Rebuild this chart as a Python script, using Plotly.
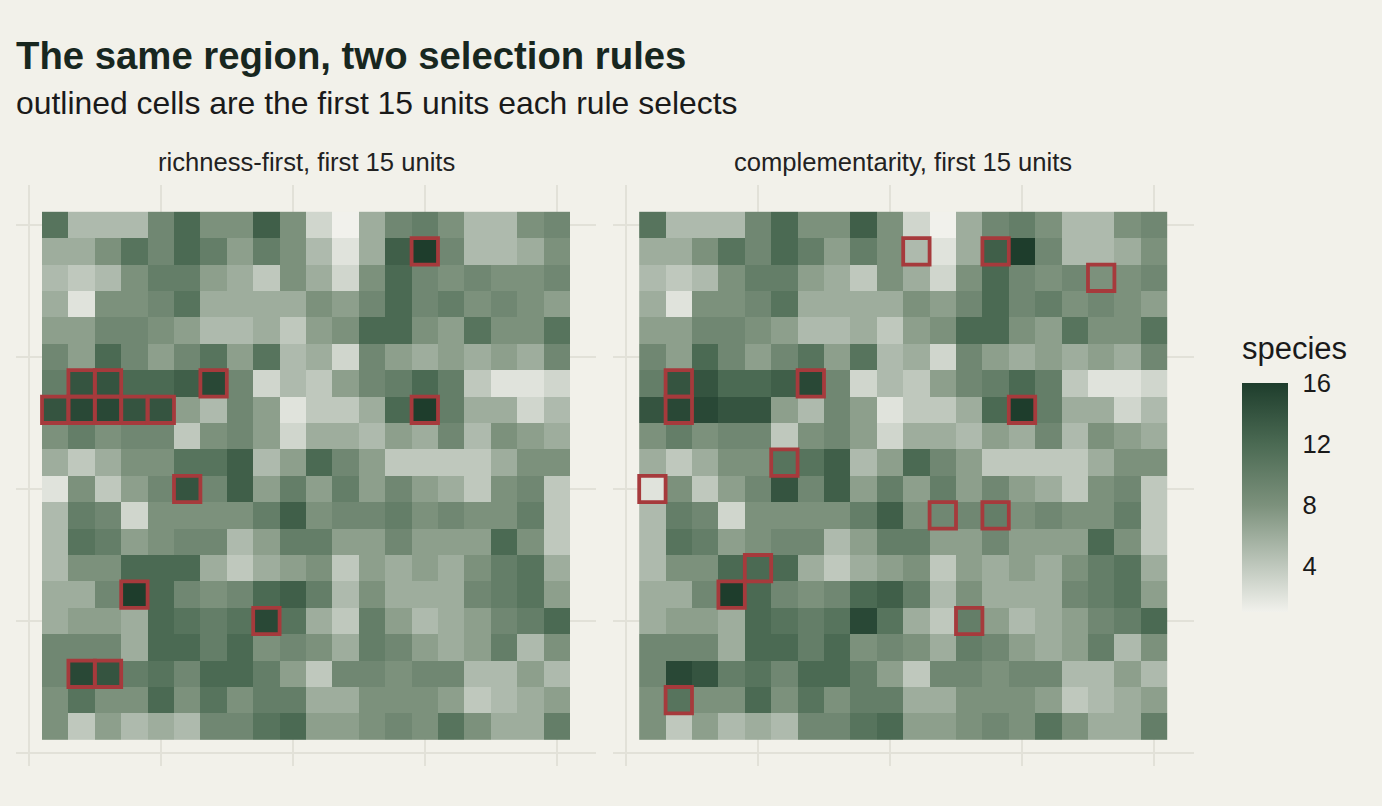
import plotly.graph_objects as go

# ---------------- data ----------------
# species richness per planning unit, 20 x 20 grid, listed top row first
richness_rows = [
    [11, 5, 5, 5, 9, 12, 8, 8, 13, 8, 3, 1, 6, 9, 10, 8, 5, 5, 8, 9],
    [6, 6, 8, 11, 9, 12, 10, 7, 10, 8, 5, 2, 6, 13, 16, 9, 5, 5, 6, 8],
    [5, 4, 5, 8, 10, 10, 7, 6, 4, 8, 6, 3, 8, 12, 9, 8, 9, 8, 8, 9],
    [6, 2, 8, 8, 9, 11, 6, 6, 6, 6, 8, 7, 9, 12, 9, 10, 8, 9, 8, 7],
    [7, 7, 9, 9, 8, 7, 5, 5, 6, 4, 7, 8, 12, 12, 8, 7, 11, 8, 8, 11],
    [9, 7, 12, 9, 7, 9, 11, 7, 11, 5, 6, 3, 9, 7, 6, 7, 6, 7, 6, 9],
    [10, 14, 14, 12, 12, 13, 15, 9, 3, 5, 4, 7, 9, 10, 12, 10, 4, 2, 2, 3],
    [14, 15, 15, 14, 14, 7, 5, 9, 7, 2, 4, 4, 6, 12, 16, 10, 6, 6, 3, 5],
    [8, 10, 8, 9, 9, 4, 8, 9, 7, 3, 6, 6, 5, 7, 6, 9, 5, 8, 7, 6],
    [6, 4, 6, 8, 8, 11, 11, 13, 5, 7, 12, 9, 7, 4, 4, 4, 4, 6, 8, 8],
    [2, 8, 4, 7, 9, 14, 9, 13, 7, 10, 7, 10, 7, 9, 7, 6, 4, 8, 9, 4],
    [5, 10, 9, 3, 8, 8, 8, 8, 10, 13, 8, 9, 9, 10, 8, 9, 8, 8, 10, 4],
    [5, 11, 10, 7, 8, 9, 9, 5, 7, 10, 10, 7, 7, 9, 7, 7, 7, 12, 8, 4],
    [5, 8, 8, 12, 12, 12, 6, 4, 6, 7, 8, 4, 7, 6, 7, 6, 8, 10, 11, 6],
    [6, 6, 9, 16, 12, 9, 8, 9, 12, 13, 10, 5, 8, 6, 6, 6, 9, 10, 11, 7],
    [6, 7, 7, 6, 12, 11, 10, 11, 15, 11, 6, 4, 10, 7, 5, 6, 7, 9, 10, 12],
    [9, 9, 9, 6, 12, 12, 10, 12, 8, 9, 8, 6, 10, 9, 7, 6, 7, 10, 5, 8],
    [9, 15, 14, 10, 11, 9, 12, 12, 10, 7, 4, 9, 9, 8, 9, 9, 5, 5, 7, 5],
    [8, 11, 8, 8, 12, 8, 11, 8, 10, 10, 6, 6, 8, 8, 8, 7, 4, 5, 6, 7],
    [8, 4, 7, 5, 6, 5, 9, 9, 11, 12, 7, 7, 8, 9, 8, 11, 8, 6, 6, 10],
]

# first 15 selected units (row index from top, column index from left)
richness_sel_rows = [1, 6, 6, 6, 7, 7, 7, 7, 7, 7, 10, 14, 15, 17, 17]
richness_sel_cols = [14, 1, 2, 6, 0, 1, 2, 3, 4, 14, 5, 3, 8, 1, 2]

compl_sel_rows = [1, 1, 2, 6, 6, 7, 7, 9, 10, 11, 11, 13, 14, 15, 18]
compl_sel_cols = [10, 13, 17, 1, 6, 1, 14, 5, 0, 11, 13, 4, 3, 12, 1]

panel_titles = ["richness-first, first 15 units", "complementarity, first 15 units"]
colorbar_ticks = [4, 8, 12, 16]
title_text = "The same region, two selection rules"
subtitle_text = "outlined cells are the first 15 units each rule selects"
legend_title = "species"

# ---------------- figure ----------------
W, H = 1382, 806
BG = "#f2f1ea"
FONT = "Liberation Sans, Arial, Helvetica, sans-serif"
n = len(richness_rows)
xs = list(range(1, n + 1))
ys = list(range(1, n + 1))
z = [richness_rows[n - 1 - j] for j in range(n)]  # bottom row first

zmin, zmax = 1, 16
def nrm(v):
    return (v - zmin) / (zmax - zmin)

colorscale = [
    [0.0, "#f1f1ec"],
    [nrm(4), "#bfc8bd"],
    [nrm(8), "#7c917c"],
    [nrm(12), "#4b6a53"],
    [1.0, "#1e3d2c"],
]

def px_x(p):
    return p / W

def px_y(p):
    return 1 - p / H

fig = go.Figure()

panels = [
    ("x", "y", richness_sel_rows, richness_sel_cols),
    ("x2", "y2", compl_sel_rows, compl_sel_cols),
]

for k, (xa, ya, srows, scols) in enumerate(panels):
    fig.add_trace(go.Heatmap(
        x=xs, y=ys, z=z, xaxis=xa, yaxis=ya,
        zmin=zmin, zmax=zmax, colorscale=colorscale,
        showscale=(k == 1),
        hoverinfo="skip",
        colorbar=dict(
            x=px_x(1242), xanchor="left",
            y=px_y(497.5), yanchor="middle",
            thickness=46, thicknessmode="pixels",
            len=229, lenmode="pixels",
            xpad=0, ypad=0, outlinewidth=0,
            tickvals=colorbar_ticks,
            ticks="outside", ticklen=10, tickwidth=1, tickcolor=BG,
            tickfont=dict(size=25.6, color="#1a1a1a", family=FONT),
        ),
    ))
    for r, c in zip(srows, scols):
        xc = c + 1
        yc = n - r
        fig.add_shape(
            type="rect", xref=xa, yref=ya,
            x0=xc - 0.5, x1=xc + 0.5, y0=yc - 0.5, y1=yc + 0.5,
            line=dict(color="#a63a3c", width=3.8),
            fillcolor="rgba(0,0,0,0)", layer="above",
        )

axis_common = dict(
    range=[-0.5, 21.5], tickvals=[0, 5, 10, 15, 20],
    showticklabels=False, ticks="", showgrid=True,
    gridcolor="#e2e1d8", gridwidth=2, zeroline=False, showline=False,
    fixedrange=True,
)

left_dom = [px_x(15.6), px_x(596.4)]
right_dom = [px_x(612.8), px_x(1193.6)]
y_dom = [px_y(766.2), px_y(185.4)]

fig.update_layout(
    width=W, height=H,
    margin=dict(l=0, r=0, t=0, b=0),
    paper_bgcolor=BG, plot_bgcolor=BG,
    font=dict(family=FONT, color="#1a1a1a"),
    xaxis=dict(domain=left_dom, anchor="y", **axis_common),
    yaxis=dict(domain=y_dom, anchor="x", **axis_common),
    xaxis2=dict(domain=right_dom, anchor="y2", **axis_common),
    yaxis2=dict(domain=y_dom, anchor="x2", **axis_common),
    showlegend=False,
)

annotations = [
    dict(text="<b>" + title_text + "</b>", x=px_x(14), y=px_y(55),
         xanchor="left", yanchor="middle", showarrow=False,
         font=dict(size=38.3, color="#18271f")),
    dict(text=subtitle_text, x=px_x(14), y=px_y(103),
         xanchor="left", yanchor="middle", showarrow=False,
         font=dict(size=31.9, color="#1a1a1a")),
    dict(text=panel_titles[0], x=(left_dom[0] + left_dom[1]) / 2, y=px_y(162),
         xanchor="center", yanchor="middle", showarrow=False,
         font=dict(size=25.6, color="#222222")),
    dict(text=panel_titles[1], x=(right_dom[0] + right_dom[1]) / 2, y=px_y(162),
         xanchor="center", yanchor="middle", showarrow=False,
         font=dict(size=25.6, color="#222222")),
    dict(text=legend_title, x=px_x(1240), y=px_y(349),
         xanchor="left", yanchor="middle", showarrow=False,
         font=dict(size=31, color="#1a1a1a")),
]
for a in annotations:
    a["xref"] = "paper"
    a["yref"] = "paper"
fig.update_layout(annotations=annotations)

fig.write_html("out.html")
